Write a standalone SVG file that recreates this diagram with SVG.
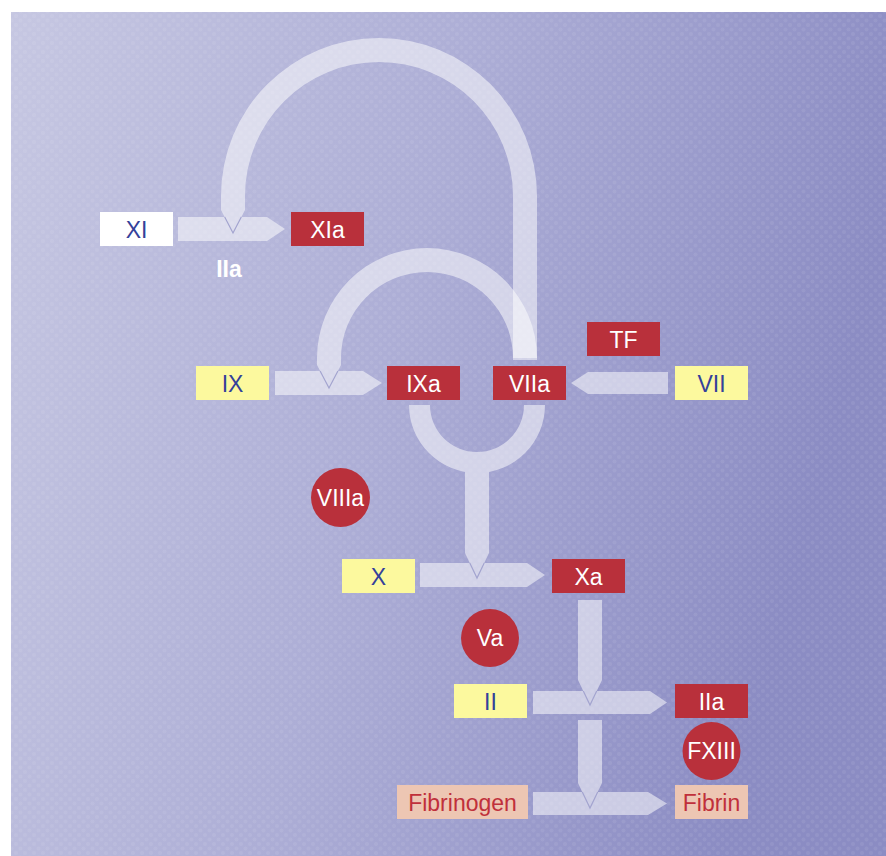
<svg xmlns="http://www.w3.org/2000/svg" width="886" height="856" viewBox="0 0 886 856">
<defs>
<linearGradient id="bg" x1="0" y1="0" x2="1" y2="0.25">
<stop offset="0" stop-color="#c6c7e2"/>
<stop offset="0.5" stop-color="#adaed6"/>
<stop offset="1" stop-color="#8b8cc3"/>
</linearGradient>
<pattern id="dots" width="9" height="9" patternUnits="userSpaceOnUse">
<circle cx="2.5" cy="2.5" r="2" fill="#ffffff" opacity="0.07"/>
<circle cx="7" cy="7" r="2" fill="#ffffff" opacity="0.07"/>
</pattern>
<style>
.arr{fill:#ffffff;opacity:0.52}
.vline{fill:none;stroke:#a3a4cf;stroke-width:1.2}
.box rect{stroke:none}
.red rect{fill:#b9303b}
.yel rect{fill:#fcf99e}
.pnk rect{fill:#edc6b3}
.wht rect{fill:#ffffff}
text{font-family:"Liberation Sans",Arial,sans-serif;font-size:23px;text-anchor:middle}
.red text,.circ text{fill:#ffffff}
.yel text,.wht text{fill:#34419a}
.pnk text{fill:#c0303b}
.circ circle{fill:#b9303b}
.lbl{fill:#ffffff;font-weight:bold}
</style>
</defs>
<rect x="11" y="12" width="875" height="844" fill="url(#bg)"/>
<rect x="11" y="12" width="875" height="844" fill="url(#dots)"/>

<g id="connectors">
<g class="arr">
<path d="M178,217 H267 L285,229 L267,241 H178 Z"/>
<path d="M537,360 V196 A158,158 0 0 0 221,196 V210 L233,233 L245,210 V196 A134,134 0 0 1 513,196 V360 Z"/>
</g>
<polyline class="vline" points="224.7,217 233,233 241.3,217"/>
<g class="arr">
<path d="M275,371 H363 L382,383 L363,395 H275 Z"/>
<path d="M537,358 A110,110 0 0 0 317,358 V365 L329,388 L341,365 V358 A86,86 0 0 1 513,358 Z"/>
</g>
<polyline class="vline" points="320.1,371 329,388 337.9,371"/>
<path class="arr" d="M668,372 H588 L571,383 L588,394 H668 Z"/>
<g class="arr">
<path d="M409,405 A68,68 0 0 0 545,405 L524,405 A47,47 0 0 1 430,405 Z"/>
<path d="M465,465 V553 L477,578 L489,553 V465 Z"/>
<path d="M420,563 H527 L545,575 L527,587 H420 Z"/>
</g>
<polyline class="vline" points="469.8,563 477,578 484.2,563"/>
<g class="arr">
<path d="M578,600 V680 L590,705 L602,680 V600 Z"/>
<path d="M533,691 H650 L667,702.5 L650,714 H533 Z"/>
</g>
<polyline class="vline" points="583.3,691 590,705 596.7,691"/>
<g class="arr">
<path d="M578,720 V783 L590,808 L602,783 V720 Z"/>
<path d="M533,792 H648 L667,803.5 L648,815 H533 Z"/>
</g>
<polyline class="vline" points="582.3,792 590,808 597.7,792"/>
</g>

<text class="lbl" x="229" y="277" id="label-IIa">IIa</text>

<g id="node-XI" class="box wht"><rect x="100" y="212" width="73" height="34"/><text x="136.5" y="237.5">XI</text></g>
<g id="node-XIa" class="box red"><rect x="291" y="212" width="73" height="34"/><text x="327.5" y="237.5">XIa</text></g>
<g id="node-IX" class="box yel"><rect x="196" y="366" width="73" height="34"/><text x="232.5" y="391.5">IX</text></g>
<g id="node-IXa" class="box red"><rect x="387" y="366" width="73" height="34"/><text x="423.5" y="391.5">IXa</text></g>
<g id="node-VIIa" class="box red"><rect x="493" y="366" width="73" height="34"/><text x="529.5" y="391.5">VIIa</text></g>
<g id="node-TF" class="box red"><rect x="587" y="322" width="73" height="34"/><text x="623.5" y="347.5">TF</text></g>
<g id="node-VII" class="box yel"><rect x="675" y="366" width="73" height="34"/><text x="711.5" y="391.5">VII</text></g>
<g id="node-VIIIa" class="circ"><circle cx="340.5" cy="497.5" r="29.5"/><text x="340.5" y="505.5">VIIIa</text></g>
<g id="node-X" class="box yel"><rect x="342" y="559" width="73" height="34"/><text x="378.5" y="584.5">X</text></g>
<g id="node-Xa" class="box red"><rect x="552" y="559" width="73" height="34"/><text x="588.5" y="584.5">Xa</text></g>
<g id="node-Va" class="circ"><circle cx="490" cy="638" r="29"/><text x="490" y="646">Va</text></g>
<g id="node-II" class="box yel"><rect x="454" y="684" width="73" height="34"/><text x="490.5" y="709.5">II</text></g>
<g id="node-IIa" class="box red"><rect x="675" y="684" width="73" height="34"/><text x="711.5" y="709.5">IIa</text></g>
<g id="node-FXIII" class="circ"><circle cx="711.5" cy="751" r="29"/><text x="711.5" y="759">FXIII</text></g>
<g id="node-Fibrinogen" class="box pnk"><rect x="397" y="785" width="131" height="34"/><text x="462.5" y="810.5">Fibrinogen</text></g>
<g id="node-Fibrin" class="box pnk"><rect x="675" y="785" width="73" height="34"/><text x="711.5" y="810.5">Fibrin</text></g>
</svg>
